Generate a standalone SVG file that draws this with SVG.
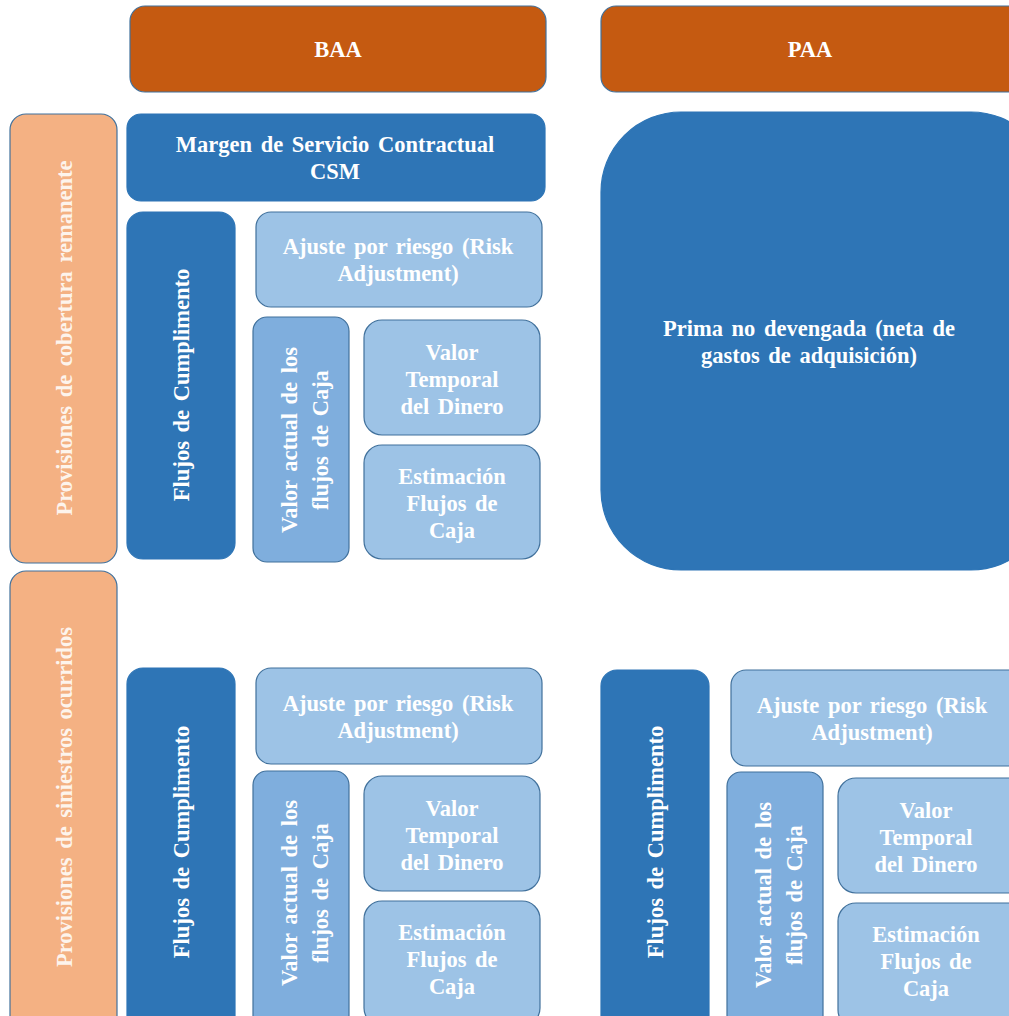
<svg xmlns="http://www.w3.org/2000/svg" width="1009" height="1016" viewBox="0 0 1009 1016">
  <style>
    .hdr { fill: #C55A11; stroke: #41719C; stroke-width: 1.2; }
    .prov { fill: #F4B183; stroke: #41719C; stroke-width: 1.2; }
    .dark { fill: #2E75B6; stroke: #2E75B6; stroke-width: 1.2; }
    .mid { fill: #7FAEDD; stroke: #41719C; stroke-width: 1.2; }
    .light { fill: #9DC3E6; stroke: #41719C; stroke-width: 1.2; }
    text { font-family: "Liberation Serif", "Times New Roman", serif; font-weight: bold; font-size: 22.5px; fill: #FFFFFF; text-anchor: middle; word-spacing: 3px; }
    .pt { fill: #FDF4EC; }
  </style>

  <!-- Column headers -->
  <g id="baa">
    <rect class="hdr" x="130" y="6" width="416" height="86" rx="15"/>
    <text x="338" y="57">BAA</text>
  </g>
  <g id="paa">
    <rect class="hdr" x="601" y="6" width="430" height="86" rx="15"/>
    <text x="810" y="57">PAA</text>
  </g>

  <!-- Row labels -->
  <g id="prov-cobertura">
    <rect class="prov" x="10" y="114" width="107" height="449" rx="16"/>
    <text class="pt" transform="translate(72,338) rotate(-90)">Provisiones de cobertura  remanente</text>
  </g>
  <g id="prov-siniestros">
    <rect class="prov" x="10" y="571" width="107" height="470" rx="16"/>
    <text class="pt" transform="translate(72,797) rotate(-90)">Provisiones de siniestros ocurridos</text>
  </g>

  <!-- BAA, remaining coverage -->
  <g id="csm">
    <rect class="dark" x="127" y="114" width="418" height="87" rx="14"/>
    <text x="335" y="152">Margen de Servicio Contractual</text>
    <text x="335" y="179">CSM</text>
  </g>
  <g id="fc-top">
    <rect class="dark" x="127" y="212" width="108" height="347" rx="16"/>
    <text transform="translate(189,385) rotate(-90)">Flujos  de Cumplimento</text>
  </g>
  <g id="ra-top">
    <rect class="light" x="256" y="212" width="286" height="95" rx="15"/>
    <text x="398" y="254">Ajuste por riesgo (Risk</text>
    <text x="398" y="281">Adjustment)</text>
  </g>
  <g id="va-top">
    <rect class="mid" x="253" y="317" width="96" height="245" rx="14"/>
    <text transform="translate(297,440) rotate(-90)">Valor actual de los</text>
    <text transform="translate(328,440) rotate(-90)">flujos de Caja</text>
  </g>
  <g id="vt-top">
    <rect class="light" x="364" y="320" width="176" height="115" rx="18"/>
    <text x="452" y="360">Valor</text>
    <text x="452" y="387">Temporal</text>
    <text x="452" y="414">del Dinero</text>
  </g>
  <g id="ef-top">
    <rect class="light" x="364" y="445" width="176" height="114" rx="18"/>
    <text x="452" y="484">Estimación</text>
    <text x="452" y="511">Flujos  de</text>
    <text x="452" y="538">Caja</text>
  </g>

  <!-- PAA, remaining coverage -->
  <g id="prima">
    <rect class="dark" x="601" y="112" width="450" height="458" rx="80"/>
    <text x="809" y="336">Prima  no devengada (neta de</text>
    <text x="809" y="363">gastos de adquisición)</text>
  </g>

  <!-- BAA, incurred claims -->
  <g id="fc-bl">
    <rect class="dark" x="127" y="668" width="108" height="370" rx="16"/>
    <text transform="translate(189,842) rotate(-90)">Flujos  de Cumplimento</text>
  </g>
  <g id="ra-bl">
    <rect class="light" x="256" y="668" width="286" height="96" rx="15"/>
    <text x="398" y="711">Ajuste por riesgo (Risk</text>
    <text x="398" y="738">Adjustment)</text>
  </g>
  <g id="va-bl">
    <rect class="mid" x="253" y="771" width="96" height="270" rx="14"/>
    <text transform="translate(297,893) rotate(-90)">Valor actual de los</text>
    <text transform="translate(328,893) rotate(-90)">flujos de Caja</text>
  </g>
  <g id="vt-bl">
    <rect class="light" x="364" y="776" width="176" height="115" rx="18"/>
    <text x="452" y="816">Valor</text>
    <text x="452" y="843">Temporal</text>
    <text x="452" y="870">del Dinero</text>
  </g>
  <g id="ef-bl">
    <rect class="light" x="364" y="901" width="176" height="125" rx="18"/>
    <text x="452" y="940">Estimación</text>
    <text x="452" y="967">Flujos  de</text>
    <text x="452" y="994">Caja</text>
  </g>

  <!-- PAA, incurred claims -->
  <g id="fc-br">
    <rect class="dark" x="601" y="670" width="108" height="370" rx="16"/>
    <text transform="translate(663,842) rotate(-90)">Flujos  de Cumplimento</text>
  </g>
  <g id="ra-br">
    <rect class="light" x="731" y="670" width="300" height="96" rx="15"/>
    <text x="872" y="713">Ajuste por riesgo (Risk</text>
    <text x="872" y="740">Adjustment)</text>
  </g>
  <g id="va-br">
    <rect class="mid" x="727" y="772" width="96" height="270" rx="14"/>
    <text transform="translate(771,895) rotate(-90)">Valor actual de los</text>
    <text transform="translate(802,895) rotate(-90)">flujos de Caja</text>
  </g>
  <g id="vt-br">
    <rect class="light" x="838" y="778" width="190" height="115" rx="18"/>
    <text x="926" y="818">Valor</text>
    <text x="926" y="845">Temporal</text>
    <text x="926" y="872">del Dinero</text>
  </g>
  <g id="ef-br">
    <rect class="light" x="838" y="903" width="190" height="125" rx="18"/>
    <text x="926" y="942">Estimación</text>
    <text x="926" y="969">Flujos  de</text>
    <text x="926" y="996">Caja</text>
  </g>

  <!-- no connectors in this layout -->
  <g id="connectors"/>
</svg>
